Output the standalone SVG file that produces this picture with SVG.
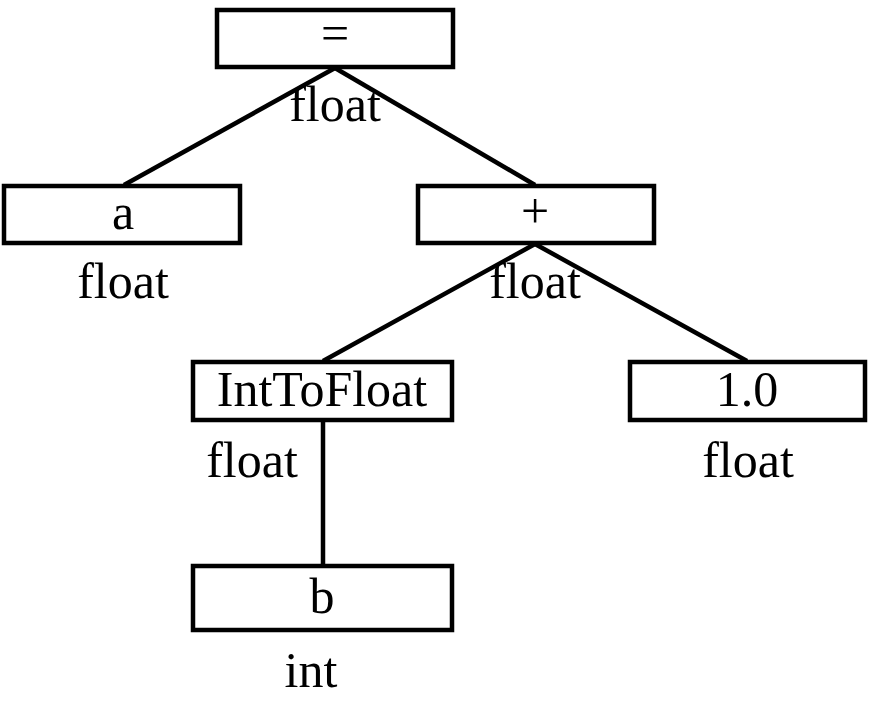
<svg xmlns="http://www.w3.org/2000/svg" width="869" height="703" viewBox="0 0 869 703">
<style>
.box{fill:#fff;stroke:#000;stroke-width:4.5}
.edge{stroke:#000;stroke-width:4.5;fill:none}
text{font-family:"Liberation Serif","Times New Roman",serif;font-size:50px;text-anchor:middle;fill:#000}
</style>
<rect width="869" height="703" fill="#fff"/>
<g id="connectors">
<line class="edge" x1="335" y1="68" x2="124" y2="185"/>
<line class="edge" x1="335" y1="68" x2="535" y2="185"/>
<line class="edge" x1="535" y1="244" x2="323" y2="361"/>
<line class="edge" x1="535" y1="244" x2="747" y2="361"/>
<line class="edge" x1="323" y1="421" x2="323" y2="565"/>
</g>
<g id="node-assign">
<rect class="box" x="217" y="10" width="236" height="57"/>
<text x="335" y="50">=</text>
<text x="335" y="121">float</text>
</g>
<g id="node-a">
<rect class="box" x="4" y="186" width="236" height="57"/>
<text x="123" y="229">a</text>
<text x="123" y="298">float</text>
</g>
<g id="node-plus">
<rect class="box" x="418" y="186" width="236" height="57"/>
<text x="535" y="228">+</text>
<text x="535" y="298">float</text>
</g>
<g id="node-inttofloat">
<rect class="box" x="193" y="362" width="259" height="58"/>
<text x="322" y="406">IntToFloat</text>
<text x="252" y="477">float</text>
</g>
<g id="node-const">
<rect class="box" x="630" y="362" width="235" height="58"/>
<text x="747" y="406">1.0</text>
<text x="748" y="477">float</text>
</g>
<g id="node-b">
<rect class="box" x="193" y="566" width="259" height="64"/>
<text x="322" y="613">b</text>
<text x="311" y="687">int</text>
</g>
</svg>
